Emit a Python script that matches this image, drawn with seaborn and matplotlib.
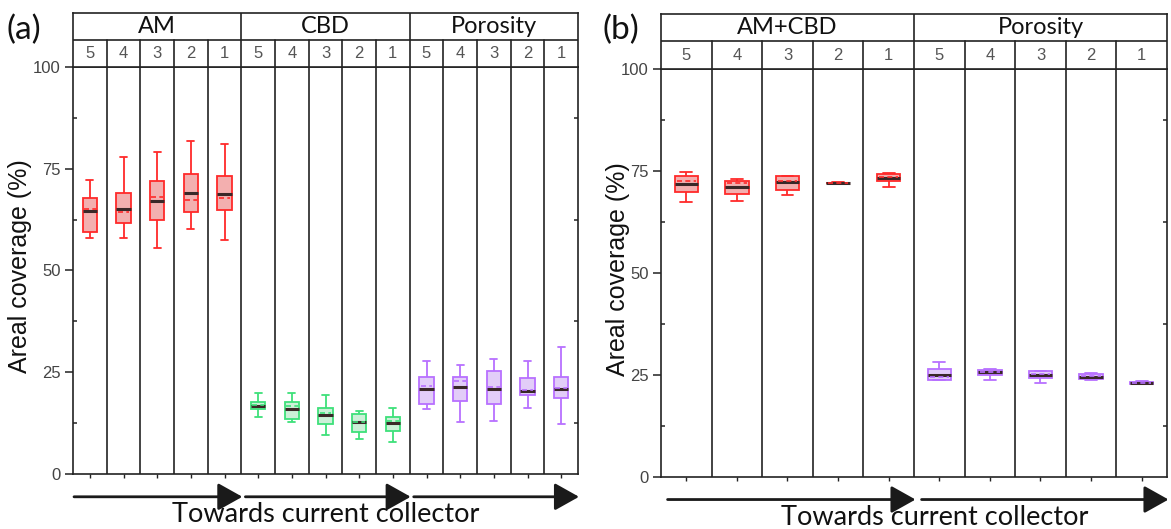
import numpy as np
import pandas as pd
import matplotlib
matplotlib.use("Agg")
import matplotlib.pyplot as plt
import seaborn as sns
from matplotlib.ticker import MultipleLocator

sns.set_theme(style="white")
plt.rcParams["font.family"] = ["Liberation Sans", "DejaVu Sans"]

# ---------------- data ----------------
positions = ["5", "4", "3", "2", "1"]

# panel (a) - AM
am_low = [58.0, 58.0, 55.6, 60.2, 57.4]
am_q1 = [59.4, 61.6, 62.5, 64.3, 64.9]
am_med = [64.5, 65.1, 67.0, 69.0, 68.7]
am_q3 = [67.7, 69.0, 71.9, 73.6, 73.3]
am_high = [72.3, 77.9, 79.2, 81.9, 81.0]
am_mean = [65.2, 64.3, 68.0, 67.4, 67.8]

# panel (a) - CBD
cbd_low = [14.1, 12.7, 9.7, 8.5, 7.8]
cbd_q1 = [15.9, 13.6, 12.3, 10.3, 10.5]
cbd_med = [16.8, 16.0, 14.5, 12.7, 12.5]
cbd_q3 = [17.6, 17.8, 16.3, 14.7, 14.0]
cbd_high = [19.9, 19.9, 19.3, 15.6, 16.3]
cbd_mean = [17.0, 16.6, 15.0, 12.8, 12.9]

# panel (a) - Porosity
pora_low = [16.0, 12.7, 13.0, 16.3, 12.4]
pora_q1 = [17.1, 17.9, 17.2, 19.3, 18.6]
pora_med = [21.0, 21.3, 21.0, 20.3, 21.0]
pora_q3 = [23.9, 23.9, 25.4, 23.5, 23.9]
pora_high = [27.8, 26.8, 28.2, 27.8, 31.1]
pora_mean = [21.7, 22.9, 21.3, 20.6, 21.2]

# panel (b) - AM+CBD
amcbd_low = [67.4, 67.7, 69.0, 71.9, 71.0]
amcbd_q1 = [69.9, 69.3, 70.3, 71.95, 72.5]
amcbd_med = [71.8, 71.1, 72.2, 72.05, 73.3]
amcbd_q3 = [73.8, 72.5, 73.8, 72.15, 74.2]
amcbd_high = [74.7, 73.0, 73.8, 72.2, 74.6]
amcbd_mean = [72.6, 72.0, 72.6, 72.1, 73.6]

# panel (b) - Porosity
porb_low = [23.6, 23.6, 23.1, 23.8, 22.7]
porb_q1 = [23.6, 24.9, 24.1, 23.9, 22.8]
porb_med = [24.9, 25.6, 24.9, 24.5, 23.1]
porb_q3 = [26.4, 26.2, 25.9, 25.3, 23.3]
porb_high = [28.1, 26.4, 25.9, 25.5, 23.5]
porb_mean = [24.4, 25.8, 25.1, 24.6, 23.1]

RED = ("#ff2a2a", "#ffa3a3")
GREEN = ("#3ee07a", "#c6f6d6")
PURPLE = ("#b870ff", "#e2c6ff")

HEAD_FONT = ["Lato", "DejaVu Sans"]


def five_point_frame(prefix, low, q1, med, q3, high):
    rows = []
    for p, a, b, c, d, e in zip(positions, low, q1, med, q3, high):
        for v in (a, b, c, d, e):
            rows.append({"cat": prefix + p, "value": v})
    return pd.DataFrame(rows)


def draw_panel(fig, rect_main, rect_head, groups, letter, letter_x, box_w,
               arrow_off, label_x, text_x):
    ax = fig.add_axes(rect_main)
    order = [g["name"] + p for g in groups for p in positions]
    n = len(order)
    for gi, g in enumerate(groups):
        edge, fill = g["colors"]
        df = five_point_frame(g["name"], *g["stats"])
        sns.boxplot(data=df, x="cat", y="value", order=order, ax=ax,
                    whis=(0, 100), width=box_w, color=fill, linecolor=edge,
                    linewidth=1.3, showfliers=False,
                    medianprops=dict(color="#3a2828", linewidth=2.2))
        xs = np.arange(5) + gi * 5
        ax.hlines(g["mean"], xs - box_w * 0.42, xs + box_w * 0.42,
                  colors=edge, linestyles=(0, (3, 2)), linewidth=1.2, zorder=5)
    ax.set_xlim(-0.5, n - 0.5)
    ax.set_ylim(0, 100)
    for i in range(n - 1):
        ax.axvline(i + 0.5, color="#222222", lw=1.2, zorder=1)
    for s in ax.spines.values():
        s.set_color("#222222")
        s.set_linewidth(1.2)
    ax.set_xlabel("")
    ax.set_xticks(np.arange(n))
    ax.set_xticklabels([])
    ax.set_yticks([0, 25, 50, 75, 100])
    ax.yaxis.set_minor_locator(MultipleLocator(12.5))
    ax.tick_params(axis="y", which="major", left=True, length=6, width=1.1,
                   color="#222222", labelsize=12, labelcolor="#444444", pad=3)
    ax.tick_params(axis="y", which="minor", left=True, right=True, length=3,
                   width=1.1, color="#222222")
    ax.tick_params(axis="y", which="minor", right=True, direction="in")
    ax.tick_params(axis="x", which="major", bottom=True, length=3, width=1.0,
                   color="#222222")
    ax.set_ylabel("Areal coverage (%)", fontsize=18, color="#111111")
    ax.yaxis.set_label_coords(label_x, 0.51)

    # header
    hx = fig.add_axes(rect_head)
    hx.set_xlim(-0.5, n - 0.5)
    hx.set_ylim(0, 2)
    hx.set_xticks([])
    hx.set_yticks([])
    for s in hx.spines.values():
        s.set_color("#222222")
        s.set_linewidth(1.2)
    hx.axhline(1, color="#222222", lw=1.2)
    for i in range(n - 1):
        if (i + 1) % 5 == 0:
            hx.plot([i + 0.5, i + 0.5], [0, 2], color="#222222", lw=1.2)
        else:
            hx.plot([i + 0.5, i + 0.5], [0, 1], color="#222222", lw=1.2)
    for j, cat in enumerate(order):
        hx.text(j, 0.5, cat[-1], ha="center", va="center", fontsize=12,
                color="#555555")
    for gi, g in enumerate(groups):
        hx.text(gi * 5 + 2, 1.5, g["name"], ha="center", va="center",
                fontsize=17, color="#111111", family=HEAD_FONT)
    fig.text(letter_x, 1 - 30 / 529, letter, ha="left", va="center",
             fontsize=24, color="#111111", family=HEAD_FONT)

    # arrows
    trans = ax.get_xaxis_transform()
    for gi in range(len(groups)):
        x0 = gi * 5 - 0.5 + arrow_off[gi]
        x1 = gi * 5 + 4.5 + 0.03
        ax.annotate("", xy=(x1, -0.056), xytext=(x0, -0.056), xycoords=trans,
                    textcoords=trans, annotation_clip=False,
                    arrowprops=dict(arrowstyle="-|>,head_length=0.75,head_width=0.42",
                                    lw=2.0, color="#1a1a1a", mutation_scale=20,
                                    shrinkA=0, shrinkB=0))
    ax.text(text_x, -0.1, "Towards current collector", transform=ax.transAxes,
            ha="center", va="center", fontsize=19.5, color="#111111", family=HEAD_FONT)
    return ax


fig = plt.figure(figsize=(11.71, 5.29), dpi=100)

groups_a = [
    dict(name="AM", colors=RED, stats=(am_low, am_q1, am_med, am_q3, am_high), mean=am_mean),
    dict(name="CBD", colors=GREEN, stats=(cbd_low, cbd_q1, cbd_med, cbd_q3, cbd_high), mean=cbd_mean),
    dict(name="Porosity", colors=PURPLE, stats=(pora_low, pora_q1, pora_med, pora_q3, pora_high), mean=pora_mean),
]
groups_b = [
    dict(name="AM+CBD", colors=RED, stats=(amcbd_low, amcbd_q1, amcbd_med, amcbd_q3, amcbd_high), mean=amcbd_mean),
    dict(name="Porosity", colors=PURPLE, stats=(porb_low, porb_q1, porb_med, porb_q3, porb_high), mean=porb_mean),
]

draw_panel(fig, [0.06234, 0.10397, 0.43126, 0.76938], [0.06234, 0.87335, 0.43126, 0.10265],
           groups_a, "(a)", 6 / 1171, 0.42, [0.03, 0.12, 0.12], -0.082, 0.5)
draw_panel(fig, [0.56447, 0.09887, 0.43211, 0.77070], [0.56447, 0.86957, 0.43211, 0.10397],
           groups_b, "(b)", 603 / 1171, 0.46, [0.13, 0.15], -0.062, 0.541)

fig.savefig("out.png", dpi=100)
